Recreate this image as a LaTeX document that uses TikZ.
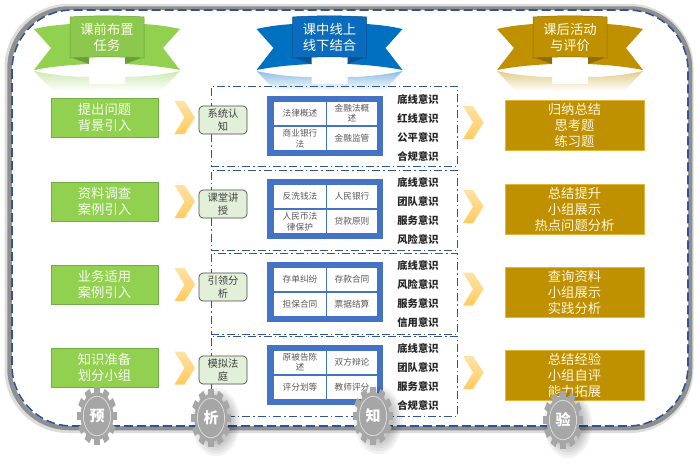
\documentclass[tikz,border=0pt]{standalone}
\usepackage{fontspec}
\setmainfont{Noto Sans CJK SC}
\usepackage{xcolor}
\definecolor{LeafGreen}{HTML}{92D050}
\definecolor{LeafDark}{HTML}{70AD47}
\definecolor{LeafFold}{HTML}{6B9E38}
\definecolor{SeaBlue}{HTML}{0070C0}
\definecolor{SeaPanel}{HTML}{0B6CBF}
\definecolor{SeaFold}{HTML}{0A5290}
\definecolor{OldGold}{HTML}{BF9000}
\definecolor{GoldFold}{HTML}{8F6C00}
\definecolor{GoldEdge}{HTML}{E2B63A}
\definecolor{FrameBlue}{HTML}{2F5597}
\definecolor{PanelBlue}{HTML}{4472C4}
\definecolor{PaleGreen}{HTML}{E2EFD9}
\definecolor{GearGray}{HTML}{A6A6A6}
\definecolor{Cream}{HTML}{FFF6DC}
\definecolor{ChevTop}{HTML}{FFE2A6}
\definecolor{ChevLow}{HTML}{FFCB5E}
\tikzset{
  prebox/.style={draw=LeafDark, line width=0.8pt, fill=LeafGreen, text=white!92!LeafGreen,
    minimum width=107pt, minimum height=39pt, inner sep=0pt, align=center,
    font=\fontsize{13.3}{16.5}\selectfont},
  postbox/.style={draw=GoldEdge, line width=0.6pt, fill=OldGold, text=Cream,
    minimum width=139pt, minimum height=50pt, inner sep=0pt, align=center,
    font=\fontsize{13.3}{16}\selectfont},
  stagebox/.style={draw=black!70, line width=0.7pt, fill=PaleGreen, text=black!75, rounded corners=4pt,
    minimum width=48pt, minimum height=28pt, inner sep=0pt, align=center,
    font=\fontsize{10.3}{13.5}\selectfont},
  groupbox/.style={draw=FrameBlue, line width=0.8pt, dash pattern=on 8pt off 3pt on 1.5pt off 3pt,
    minimum width=246pt, minimum height=80pt, inner sep=0pt},
  panelbox/.style={fill=PanelBlue, minimum width=116pt, minimum height=59.5pt, inner sep=0pt},
  cellbox/.style={fill=white, text=black!65, minimum height=23pt, inner sep=0pt, align=center,
    font=\fontsize{8.7}{10.5}\selectfont},
  skilltext/.style={text=black!85, inner sep=0pt, font=\fontsize{10.3}{12}\selectfont\bfseries},
  ribbontext/.style={text=white!90!yellow, inner sep=0pt, align=center,
    font=\fontsize{13.3}{16.5}\selectfont},
  geartext/.style={text=white, inner sep=0pt, font=\fontsize{15}{15}\selectfont\bfseries},
}

% ribbon: name, centre x, wing, panel, fold, label
\newcommand{\ribbon}[6]{
  \shade[top color=#3!45, bottom color=white]
    (#2-73,71) .. controls (#2-55,75) and (#2-35,77) .. (#2-18,77) -- (#2-18,84) -- (#2+18,84) -- (#2+18,77)
    .. controls (#2+35,77) and (#2+55,75) .. (#2+73,71) -- (#2+54,91) -- (#2-54,91) -- cycle;
  \fill[#3] (#2-73,29) .. controls (#2-60,26) and (#2-50,25) .. (#2-37,24) -- (#2-18,64)
    .. controls (#2-40,65) and (#2-58,67) .. (#2-73,70) -- (#2-56,48) -- cycle;
  \fill[#3] (#2+73,29) .. controls (#2+60,26) and (#2+50,25) .. (#2+37,24) -- (#2+18,64)
    .. controls (#2+40,65) and (#2+58,67) .. (#2+73,70) -- (#2+56,48) -- cycle;
  \fill[#5] (#2-37,57) -- (#2-18,64) -- (#2-18,57) -- cycle;
  \fill[#5] (#2+37,57) -- (#2+18,64) -- (#2+18,57) -- cycle;
  \draw[#5, line width=0.5pt, fill=#4] (#2-37,17) .. controls (#2-15,15.5) and (#2+15,15.5) .. (#2+37,17)
    -- (#2+37,58) .. controls (#2+15,56.5) and (#2-15,56.5) .. (#2-37,58) -- cycle;
  \node[ribbontext] (#1) at (#2,37.5) {#6};
}

% chevron: x of left edge, y of middle
\newcommand{\chevron}[2]{
  \shade[top color=ChevTop, bottom color=ChevLow]
    (#1,#2-16.5) -- (#1+10,#2-16.5) -- (#1+20.5,#2) -- (#1+10,#2+16.5) -- (#1,#2+16.5) -- (#1+10,#2) -- cycle;
}

% blue panel with four cells: row, top of panel, texts
\newcommand{\panelcells}[6]{
  \node[panelbox] (panel#1) at (325,#2+30) {};
  \node[cellbox, minimum width=52pt] (cell#1a) at (300,#2+17) {#3};
  \node[cellbox, minimum width=50pt] (cell#1b) at (352,#2+17) {#4};
  \node[cellbox, minimum width=52pt] (cell#1c) at (300,#2+42.5) {#5};
  \node[cellbox, minimum width=50pt] (cell#1d) at (352,#2+42.5) {#6};
}

% four skill lines: row, first y, texts
\newcommand{\skills}[6]{
  \node[skilltext] (skill#1a) at (418,#2) {#3};
  \node[skilltext] (skill#1b) at (418,#2+19) {#4};
  \node[skilltext] (skill#1c) at (418,#2+37.7) {#5};
  \node[skilltext] (skill#1d) at (418,#2+56.5) {#6};
}

% gear: name, x, y, label, shadow yes = 1
\newcommand{\gear}[5]{
  \ifnum#5=1
    \foreach \r in {24,22,20,18,16}
      \fill[black, opacity=0.05] (#2+5,#3+4) ellipse[x radius=\r, y radius=1.42*\r];
  \fi
  \begin{scope}[shift={(#2,#3)}, yscale=1.45]
    \fill[GearGray] (0,0) circle[radius=16.5];
    \foreach \a in {0,30,...,330}
      \fill[GearGray, rotate=\a] (-2.8,-20) rectangle (2.8,-15);
    \draw[white!85!black, line width=0.8pt] (0,0) circle[radius=13.6];
  \end{scope}
  \node[geartext] (#1) at (#2,#3) {#4};
}

\begin{document}
\begin{tikzpicture}[x=1pt, y=-1pt]
\useasboundingbox (0,0) rectangle (700,472);

% outer frame with its shadow
\draw[black!45, line width=7pt, opacity=0.3, rounded corners=60pt] (8,7.5) rectangle (690,429.5);
\draw[black!60, line width=4.5pt, opacity=0.65, rounded corners=60pt] (9.5,8.5) rectangle (690,428);
\draw[FrameBlue, line width=1.6pt, fill=white, dash pattern=on 9pt off 4pt, rounded corners=60pt] (12,10) rectangle (688,426);

% ribbons
\ribbon{ribbonpre}{107}{LeafGreen}{LeafGreen!96!black}{LeafFold}{课前布置\\任务}
\ribbon{ribbonmid}{329.5}{SeaBlue}{SeaPanel}{SeaFold}{课中线上\\线下结合}
\ribbon{ribbonpost}{570}{OldGold}{OldGold}{GoldFold}{课后活动\\与评价}

% dashed groups
\node[groupbox] (group1) at (334,126) {};
\node[groupbox] (group2) at (334,210) {};
\node[groupbox, minimum height=81pt] (group3) at (334,293.5) {};
\node[groupbox] (group4) at (334,376) {};

% left column
\node[prebox] (pre1) at (104.5,117.5) {提出问题\\背景引入};
\node[prebox] (pre2) at (104.5,201.5) {资料调查\\案例引入};
\node[prebox] (pre3) at (104.5,284.5) {业务适用\\案例引入};
\node[prebox] (pre4) at (104.5,367.5) {知识准备\\划分小组};

\chevron{174.5}{117.5}
\chevron{174.5}{201.5}
\chevron{174.5}{284.5}
\chevron{174.5}{368}

\node[stagebox] (stage1) at (223,120) {系统认\\知};
\node[stagebox] (stage2) at (223,204) {课堂讲\\授};
\node[stagebox] (stage3) at (223,287) {引领分\\析};
\node[stagebox] (stage4) at (223,370) {模拟法\\庭};

% middle column
\panelcells{1}{96}{法律概述}{金融法概\\述}{商业银行\\法}{金融监管}
\panelcells{2}{179}{反洗钱法}{人民银行}{人民币法\\律保护}{贷款原则}
\panelcells{3}{262}{存单纠纷}{存款合同}{担保合同}{票据结算}
\panelcells{4}{345}{原被告陈\\述}{双方辩论}{评分划等}{教师评分}

\skills{1}{99.5}{底线意识}{红线意识}{公平意识}{合规意识}
\skills{2}{183}{底线意识}{团队意识}{服务意识}{风险意识}
\skills{3}{266}{底线意识}{风险意识}{服务意识}{信用意识}
\skills{4}{349}{底线意识}{团队意识}{服务意识}{合规意识}

% right column
\chevron{463}{122.5}
\chevron{463}{206.5}
\chevron{463}{289}
\chevron{463}{372.5}

\node[postbox] (post1) at (574.5,125) {归纳总结\\思考题\\练习题};
\node[postbox] (post2) at (574.5,209) {总结提升\\小组展示\\热点问题分析};
\node[postbox] (post3) at (574.5,292) {查询资料\\小组展示\\实践分析};
\node[postbox] (post4) at (574.5,375) {总结经验\\小组自评\\能力拓展};

% gears
\gear{gearyu}{97}{416}{预}{0}
\gear{gearxi}{211}{418}{析}{1}
\gear{gearzhi}{373}{416}{知}{1}
\gear{gearyan}{563}{420}{验}{1}
\end{tikzpicture}
\end{document}
